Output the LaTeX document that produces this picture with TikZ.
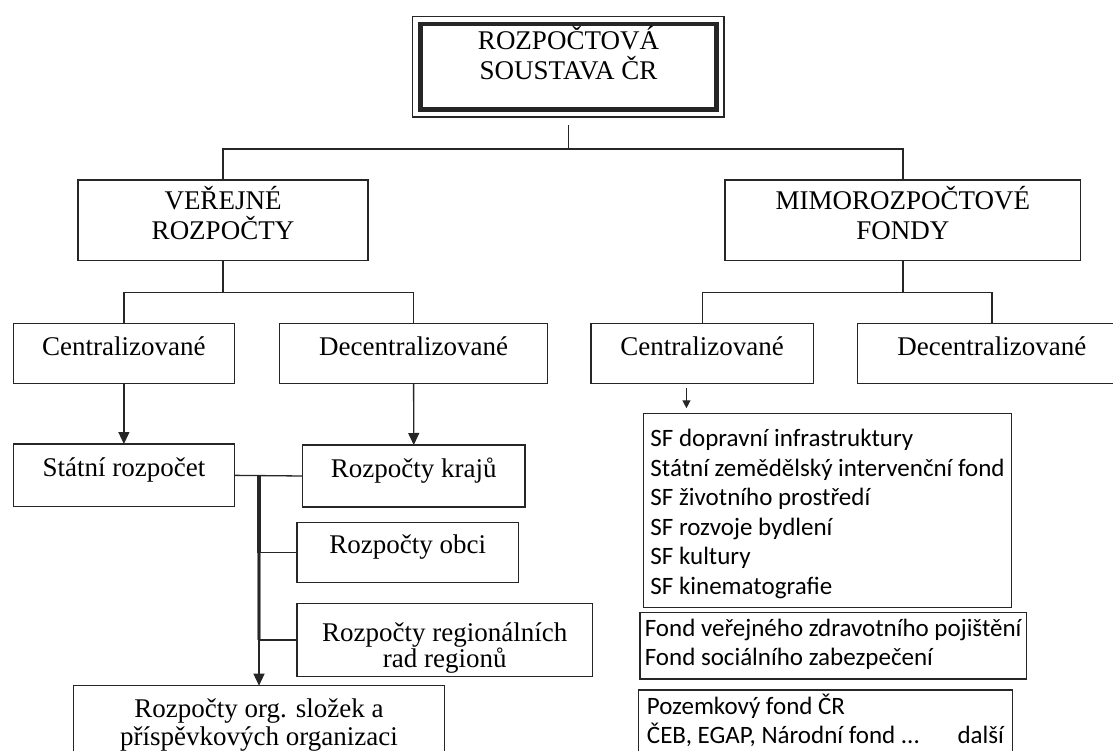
\documentclass[tikz,border=0pt]{standalone}
\usepackage{fontspec}
\setmainfont{Liberation Serif}
\newfontfamily\fundsans{Carlito}
\usetikzlibrary{arrows.meta}

\newcommand{\boxfont}{\fontsize{27}{29.5}\selectfont}
\newcommand{\fundfont}{\fundsans\fontsize{25}{29.6}\selectfont}

\begin{document}
\begin{tikzpicture}[x=1pt, y=-1pt,
    box/.style={draw=black!85, line width=1.3pt, anchor=north west,
      inner sep=0pt, outer sep=0pt, align=center, font=\boxfont},
    fundbox/.style={box, align=left, font=\fundfont},
    link/.style={draw=black!85, line width=1.3pt},
    arrow/.style={link, -{Triangle[length=12pt, width=11pt]}},
    smallarrow/.style={link, -{Triangle[length=8pt, width=8pt]}},
  ]
  \useasboundingbox (0,0) rectangle (1113,751);
  \clip (0,0) rectangle (1113,751);

  % Root box with double frame
  \node[box, line width=4.5pt, minimum width=296pt, text height=55.5pt, text depth=30pt]
    (root) at (420.5,24) {ROZPOČTOVÁ\\SOUSTAVA ČR};
  \draw[link, line width=1.2pt] ([shift={(-8,-7.5)}]root.north west)
    rectangle ([shift={(7.5,7.5)}]root.south east);

  % Second level
  \node[box, minimum width=290pt, text height=59.5pt, text depth=21.2pt]
    (vr) at (78,180) {VEŘEJNÉ\\ROZPOČTY};
  \node[box, minimum width=355.7pt, text height=59.5pt, text depth=21.2pt]
    (mf) at (725,180) {MIMOROZPOČTOVÉ\\FONDY};

  % Third level
  \node[box, minimum width=221.4pt, text height=31.7pt, text depth=28.3pt]
    (vrc) at (13.2,323.3) {Centralizované};
  \node[box, minimum width=268pt, text height=31.7pt, text depth=28.3pt]
    (vrd) at (279.6,323.3) {Decentralizované};
  \node[box, minimum width=222.3pt, text height=31.7pt, text depth=28.3pt]
    (mfc) at (591,323.3) {Centralizované};
  \node[box, minimum width=268.3pt, text height=31.7pt, text depth=28.3pt]
    (mfd) at (857.7,323.3) {Decentralizované};

  % Public budgets
  \node[box, minimum width=221.4pt, text height=32.5pt, text depth=30.2pt]
    (sr) at (13.2,444) {Státní rozpočet};
  \node[box, minimum width=222.5pt, text height=32pt, text depth=30pt]
    (kr) at (302.5,445) {Rozpočty krajů};
  \node[box, minimum width=221.6pt, text height=30.6pt, text depth=29pt]
    (ob) at (297,522.7) {Rozpočty obci};
  \node[box, minimum width=295.5pt, text height=63.7pt, text depth=9.7pt, font=\fontsize{27}{26}\selectfont]
    (rr) at (297,603.3) {Rozpočty regionálních\\rad regionů};
  \node[box, minimum width=371.4pt, text height=59.3pt, text depth=40pt, font=\fontsize{27}{28}\selectfont]
    (os) at (73.2,685.7) {Rozpočty org. složek a\\příspěvkových organizaci};

  % Extra-budgetary funds
  \node[fundbox, minimum width=367.9pt, text height=181.2pt, text depth=12.8pt]
    (sf) at (643.6,413.3) {SF dopravní infrastruktury\\Státní zemědělský intervenční fond\\SF životního prostředí\\SF rozvoje bydlení\\SF kultury\\SF kinematografie};
  \node[fundbox, minimum width=386.3pt, text height=52.9pt, text depth=13.4pt]
    (fz) at (640,612.7) {Fond veřejného zdravotního pojištění\\Fond sociálního zabezpečení};
  \node[fundbox, minimum width=374.3pt, text height=53.6pt, text depth=46pt]
    (pf) at (638.3,690) {Pozemkový fond ČR\\\makebox[357pt][l]{ČEB, EGAP, Národní fond ...\hfill další}};

  % Tree connectors
  \coordinate (bus) at (0,149);
  \coordinate (vrbus) at (0,292.5);
  \coordinate (mfbus) at (0,292.7);
  \draw[link] ([shift={(0,15.5)}]root.south) -- (root.south |- bus) -| (vr.north);
  \draw[link] (root.south |- bus) -| (mf.north);
  \draw[link] (vr.south) -- (vr.south |- vrbus) -| (vrc.north);
  \draw[link] (vr.south |- vrbus) -| (vrd.north);
  \draw[link] (mf.south) -- (mf.south |- mfbus) -| (mfc.north);
  \draw[link] (mf.south |- mfbus) -| (mfd.north);

  \draw[arrow] (vrc.south) -- (sr.north);
  \draw[arrow] (vrd.south) -- (kr.north);
  \draw[smallarrow] ([xshift=-15.7pt, yshift=-5pt]mfc.south)
    -- ([xshift=-15.7pt, yshift=5pt]mfc.south |- sf.north);

  % Spine from the state budget
  \coordinate (jn) at (259,475.6);
  \draw[link] (sr.east) -- (kr.west);
  \draw[link, line width=4pt] (jn) -- (jn |- ob.west);
  \draw[link, draw=black!45, line width=4pt] (jn |- ob.west) -- (jn |- rr.west);
  \draw[arrow] (jn) -- (jn |- os.north);
  \draw[link] (jn |- ob.west) -- (ob.west);
  \draw[link] (jn |- rr.west) -- (rr.west);

\end{tikzpicture}
\end{document}
